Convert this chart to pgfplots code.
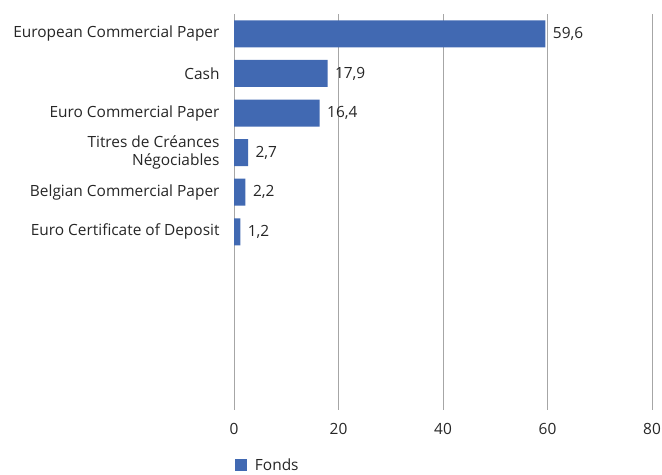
\documentclass[border=0pt]{standalone}
\usepackage{pgfplots}
\pgfplotsset{compat=1.18}
\usepackage{fontspec}
\setmainfont{Open Sans}
\definecolor{barblue}{HTML}{4169B2}
\definecolor{gridgray}{HTML}{A6A6A6}
\definecolor{txt}{HTML}{262626}
\begin{document}
\begin{tikzpicture}
\begin{axis}[
  scale only axis,
  width=418bp, height=396bp,
  xbar, bar width=27bp,
  xmin=0, xmax=80,
  ymin=-0.5, ymax=9.5,
  y dir=reverse,
  xtick={0,20,40,60,80},
  ytick={0,1,2,3,4,5},
  yticklabels={European Commercial Paper, Cash, Euro Commercial Paper, {Titres de Créances\\Négociables}, Belgian Commercial Paper, Euro Certificate of Deposit},
  yticklabel style={align=right, font=\fontsize{15.5}{17.5}\selectfont, text=txt, xshift=-11bp},
  xticklabel style={font=\fontsize{15.5}{16}\selectfont, text=txt},
  /pgf/number format/assume math mode=true,
  xmajorgrids, major grid style={gridgray, line width=0.9pt},
  axis line style={draw=none},
  axis x line*=bottom, axis y line*=left,
  major tick length=0pt,
  xtick pos=bottom,
  ytick style={draw=none},
  xtick style={draw=none},
  xticklabel shift=10bp,
  nodes near coords,
  nodes near coords style={font=\fontsize{15.5}{16}\selectfont, text=txt, xshift=4bp, /pgf/number format/.cd, use comma, fixed, fixed zerofill, precision=1, assume math mode=true},
  legend style={draw=none, fill=none, at={(axis description cs:-0.005,-0.112)}, anchor=north west, font=\fontsize{15.5}{16}\selectfont, text=txt, /tikz/every even column/.append style={column sep=0pt}},
  legend image code/.code={\fill[barblue] (0cm,-0.2cm) rectangle (0.42cm,0.22cm);},
  legend cell align=left,
  clip=false,
]
\draw[gridgray, line width=0.9pt] (axis cs:0,-0.5) -- (axis cs:0,9.5);
\addplot[fill=barblue, draw=none] coordinates {(59.6,0) (17.9,1) (16.4,2) (2.7,3) (2.2,4) (1.2,5)};
\addlegendentry{\hspace{6bp}Fonds}
\end{axis}
\pgfresetboundingbox
\path (current axis.south west) ++(-234bp,-64bp) rectangle ([shift={(10bp,14bp)}]current axis.north east);
\end{tikzpicture}
\end{document}
